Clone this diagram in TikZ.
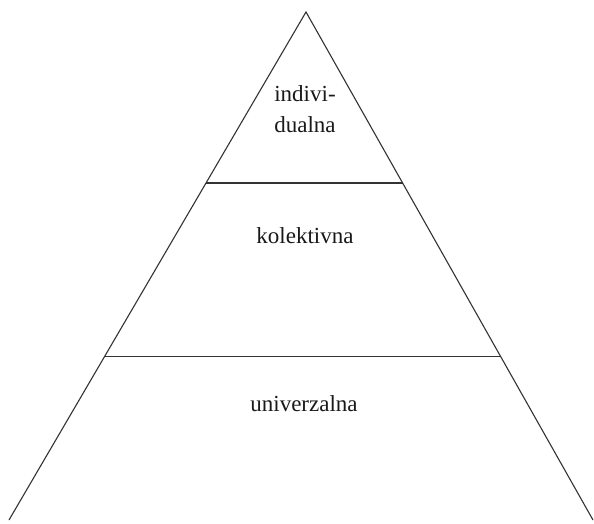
\documentclass[tikz,border=0pt]{standalone}
\usepackage{fontspec}
\setmainfont{Liberation Serif}
\usetikzlibrary{calc}
\begin{document}
\begin{tikzpicture}[x=1pt,y=1pt,
  edge/.style={draw=black!80, line width=1.1pt},
  lbl/.style={anchor=base, inner sep=0pt, font=\fontsize{23}{31}\selectfont, text=black!90}]
\useasboundingbox (0,0) rectangle (594,523);
\coordinate (A) at (306,511);
\coordinate (BL) at (9,3);
\coordinate (BR) at (593,3);
\coordinate (L1) at ($(A)!0.3366!(BL)$);
\coordinate (R1) at ($(A)!0.3366!(BR)$);
\coordinate (L2) at ($(A)!0.679!(BL)$);
\coordinate (R2) at ($(A)!0.679!(BR)$);
\draw[edge] (BL) -- (A) -- (BR);
\draw[edge] (L1) -- (R1);
\draw[edge] (L2) -- (R2);
\node[lbl] (t1) at (305,421) {indivi-};
\node[lbl] (t2) at (305,390) {dualna};
\node[lbl] (t3) at (305,280) {kolektivna};
\node[lbl] (t4) at (304,112) {univerzalna};
\end{tikzpicture}
\end{document}
